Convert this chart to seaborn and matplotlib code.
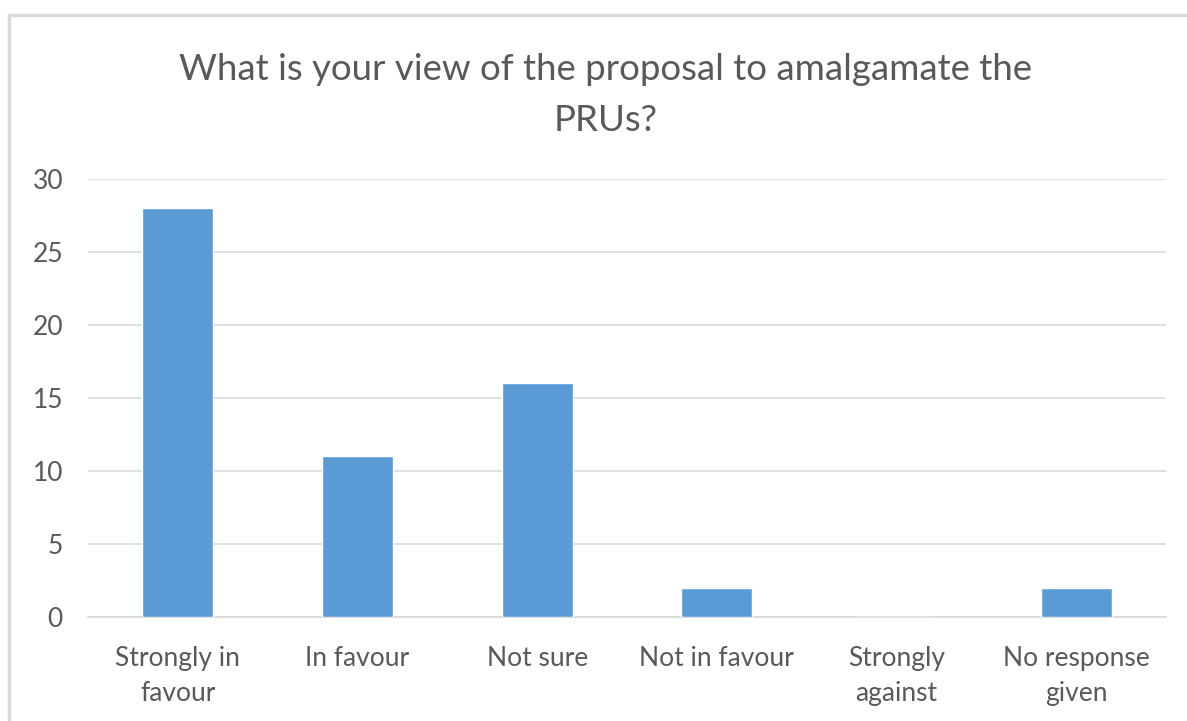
import matplotlib
matplotlib.use("Agg")
import matplotlib.pyplot as plt
import seaborn as sns
import pandas as pd

# ข้อมูลจากแผนภูมิ
categories = ["Strongly in\nfavour", "In favour", "Not sure", "Not in favour",
              "Strongly\nagainst", "No response\ngiven"]
counts = [28, 11, 16, 2, 0, 2]
y_ticks = [0, 5, 10, 15, 20, 25, 30]

df = pd.DataFrame({"view": categories, "count": counts})

sns.set_theme(style="white")
plt.rcParams["font.family"] = ["Lato", "DejaVu Sans"]

text_col = "#595959"
grid_col = "#d9d9d9"

fig = plt.figure(figsize=(11.87, 7.21), dpi=100)
ax = fig.add_axes([88 / 1187, 1 - 617 / 721, (1166 - 88) / 1187, (617 - 179) / 721])

sns.barplot(data=df, x="view", y="count", color="#5b9bd5", width=0.395,
            saturation=1, ax=ax, zorder=3)

ax.set_ylim(0, 30)
ax.set_yticks(y_ticks)
ax.set_xlim(-0.5, len(categories) - 0.5)
ax.yaxis.grid(True, color=grid_col, linewidth=1.2, zorder=0)
ax.set_axisbelow(True)
for s in ["top", "right", "left"]:
    ax.spines[s].set_visible(False)
ax.spines["bottom"].set_color(grid_col)
ax.spines["bottom"].set_linewidth(1.2)
ax.tick_params(axis="both", length=0, labelsize=19, colors=text_col)
ax.tick_params(axis="y", pad=18)
ax.tick_params(axis="x", pad=21)
for lbl in ax.get_xticklabels():
    lbl.set_linespacing(1.5)
ax.set_xlabel("")
ax.set_ylabel("")

fig.text(606 / 1187, 1 - 95 / 721,
         "What is your view of the proposal to amalgamate the\nPRUs?",
         ha="center", va="center", fontsize=26.4, color=text_col, linespacing=1.63)

# กรอบของแผนภูมิ (บนและซ้าย)
fig.add_artist(plt.Line2D([9 / 1187, 9 / 1187], [0, 1 - 15 / 721],
                          transform=fig.transFigure, color=grid_col, linewidth=2.5))
fig.add_artist(plt.Line2D([9 / 1187, 1], [1 - 15 / 721, 1 - 15 / 721],
                          transform=fig.transFigure, color=grid_col, linewidth=2.5))

fig.savefig("out.png", dpi=100)
